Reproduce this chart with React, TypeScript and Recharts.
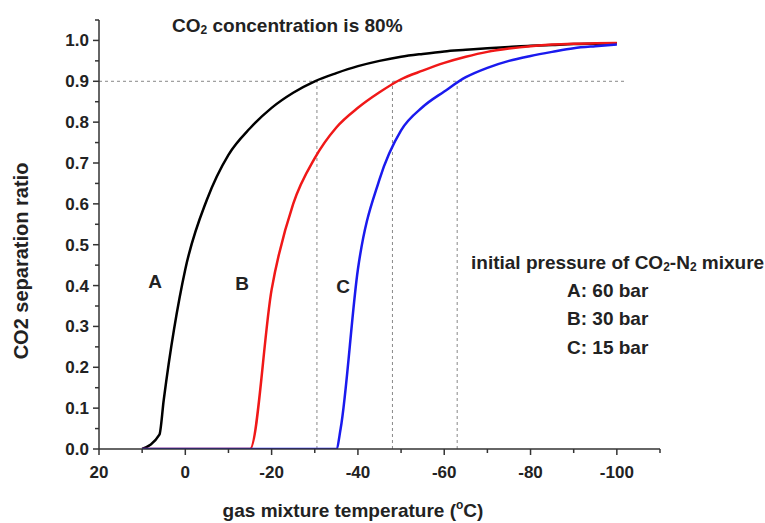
import { LineChart, Line, XAxis, YAxis, ReferenceLine } from 'recharts'

// curve A (60 bar)
const tempA = [10, 6, 5, 0, -5, -10, -15, -20, -25, -30, -35, -40, -45, -50, -55, -60, -65, -70, -75, -80, -85, -90, -95, -100]
const ratioA = [0, 0.035, 0.12, 0.44, 0.61, 0.72, 0.785, 0.835, 0.872, 0.9, 0.92, 0.937, 0.95, 0.96, 0.967, 0.973, 0.977, 0.981, 0.984, 0.987, 0.989, 0.991, 0.992, 0.993]

// curve B (30 bar)
const tempB = [10, -15, -20, -25, -30, -35, -40, -45, -50, -55, -60, -65, -70, -75, -80, -85, -90, -95, -100]
const ratioB = [0, 0, 0.39, 0.6, 0.712, 0.787, 0.835, 0.873, 0.905, 0.926, 0.945, 0.96, 0.972, 0.98, 0.986, 0.99, 0.992, 0.993, 0.994]

// curve C (15 bar)
const tempC = [10, -35, -36, -40, -45, -50, -55, -60, -65, -70, -75, -80, -85, -90, -95, -100]
const ratioC = [0, 0, 0.05, 0.44, 0.66, 0.78, 0.837, 0.875, 0.91, 0.933, 0.95, 0.962, 0.972, 0.981, 0.986, 0.99]

// temperatures where each curve reaches 0.9
const crossTemps = [-30.5, -48, -63]
const crossRatio = 0.9

const xTicks = [20, 10, 0, -10, -20, -30, -40, -50, -60, -70, -80, -90, -100, -110]
const yTicks = [0, 0.05, 0.1, 0.15, 0.2, 0.25, 0.3, 0.35, 0.4, 0.45, 0.5, 0.55, 0.6, 0.65, 0.7, 0.75, 0.8, 0.85, 0.9, 0.95, 1.0, 1.05]

const toRows = (t: number[], v: number[]) => t.map((x, i) => ({ t: x, v: v[i] }))
const dataA = toRows(tempA, ratioA)
const dataB = toRows(tempB, ratioB)
const dataC = toRows(tempC, ratioC)

const font = '"Liberation Sans", Arial, sans-serif'
const axisColor = '#333'

function XTick(props: any) {
  const { x, y, payload } = props
  const v = payload.value
  const major = v % 20 === 0
  return (
    <g>
      <line x1={x} y1={y} x2={x} y2={y + (major ? 6 : 4)} stroke={axisColor} strokeWidth={1.5} />
      {major && (
        <text x={x} y={y + 29} textAnchor="middle" fontSize={17} fontWeight="bold" fill="#222" fontFamily={font}>
          {v}
        </text>
      )}
    </g>
  )
}

function YTick(props: any) {
  const { x, y, payload } = props
  const v = payload.value
  const major = Math.round(v * 100) % 10 === 0
  return (
    <g>
      <line x1={x} y1={y} x2={x - (major ? 6 : 4)} y2={y} stroke={axisColor} strokeWidth={1.5} />
      {major && (
        <text x={x - 10} y={y + 6} textAnchor="end" fontSize={17} fontWeight="bold" fill="#222" fontFamily={font}>
          {v.toFixed(1)}
        </text>
      )}
    </g>
  )
}

const bold = { fontFamily: font, fontWeight: 'bold' as const, fill: '#222' }

export default function App() {
  return (
    <div style={{ position: 'absolute', left: 0, top: 0, width: 765, height: 523, background: '#fff' }}>
      <LineChart width={765} height={523} margin={{ top: 20, right: 105, bottom: 34, left: 39 }}>
        <XAxis
          dataKey="t"
          type="number"
          domain={[-110, 20]}
          reversed
          ticks={xTicks}
          interval={0}
          allowDataOverflow
          height={40}
          tickSize={0}
          tickMargin={0}
          tickLine={false}
          tick={<XTick />}
          axisLine={{ stroke: axisColor, strokeWidth: 1.5 }}
        />
        <YAxis
          type="number"
          domain={[0, 1.05]}
          ticks={yTicks}
          interval={0}
          allowDataOverflow
          width={60}
          tickSize={0}
          tickMargin={0}
          tickLine={false}
          tick={<YTick />}
          axisLine={{ stroke: axisColor, strokeWidth: 1.5 }}
        />
        <ReferenceLine
          segment={[{ x: 20, y: crossRatio }, { x: -102, y: crossRatio }]}
          stroke="#888"
          strokeDasharray="3 3"
        />
        {crossTemps.map((t) => (
          <ReferenceLine
            key={t}
            segment={[{ x: t, y: 0 }, { x: t, y: crossRatio }]}
            stroke="#888"
            strokeDasharray="3 3"
          />
        ))}
        <Line data={dataA} dataKey="v" type="monotone" stroke="#000" strokeWidth={2.5} dot={false} isAnimationActive={false} />
        <Line data={dataB} dataKey="v" type="monotone" stroke="#f01818" strokeWidth={2.5} dot={false} isAnimationActive={false} />
        <Line data={dataC} dataKey="v" type="monotone" stroke="#1a1aee" strokeWidth={2.5} dot={false} isAnimationActive={false} />

        <text x={172} y={32} fontSize={19} {...bold}>
          CO<tspan fontSize={12} dy={2}>2</tspan>
          <tspan dy={-2}> concentration is 80%</tspan>
        </text>
        <text x={155} y={288} fontSize={19} textAnchor="middle" {...bold}>A</text>
        <text x={242} y={290} fontSize={19} textAnchor="middle" {...bold}>B</text>
        <text x={343} y={293} fontSize={19} textAnchor="middle" {...bold}>C</text>

        <text x={471} y={269} fontSize={19} {...bold}>
          initial pressure of CO<tspan fontSize={12} dy={2}>2</tspan>
          <tspan dy={-2}>-N</tspan>
          <tspan fontSize={12} dy={2}>2</tspan>
          <tspan dy={-2}> mixure</tspan>
        </text>
        <text x={567} y={297} fontSize={19} {...bold}>A: 60 bar</text>
        <text x={567} y={325} fontSize={19} {...bold}>B: 30 bar</text>
        <text x={567} y={354} fontSize={19} {...bold}>C: 15 bar</text>

        <text x={353} y={517} fontSize={19} textAnchor="middle" {...bold}>
          gas mixture temperature (<tspan fontSize={12} dy={-8}>o</tspan>
          <tspan dy={8}>C)</tspan>
        </text>
        <text x={23} y={261} fontSize={20} textAnchor="middle" transform="rotate(-90 23 261)" dominantBaseline="middle" {...bold}>
          CO2 separation ratio
        </text>
      </LineChart>
    </div>
  )
}
